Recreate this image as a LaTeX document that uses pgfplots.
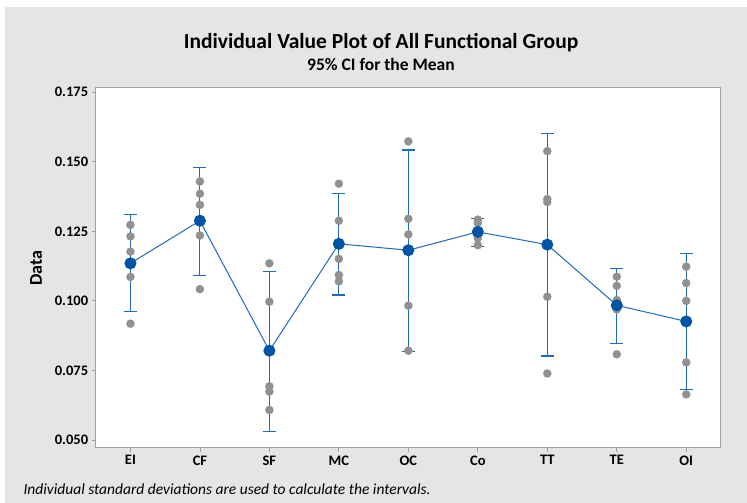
\documentclass[border=0pt]{standalone}
\usepackage{pgfplots}
\pgfplotsset{compat=1.18}
\usepackage{pgfplotstable}
\usepackage{fontspec}
\setmainfont{Carlito}
\definecolor{bg}{RGB}{229,229,229}
\definecolor{pts}{RGB}{145,145,145}
\definecolor{meanblue}{RGB}{0,84,166}
\definecolor{ciblue}{RGB}{31,106,186}
\definecolor{frame}{RGB}{160,160,160}

\pgfplotstableread{
x y
0 0.1273
0 0.1232
0 0.1177
0 0.1086
0 0.0918
1 0.1429
1 0.1385
1 0.1345
1 0.1235
1 0.1042
2 0.1135
2 0.0997
2 0.0693
2 0.0674
2 0.0608
3 0.1421
3 0.1288
3 0.1151
3 0.1093
3 0.1070
4 0.1573
4 0.1295
4 0.1239
4 0.0983
4 0.0821
5 0.1292
5 0.1280
5 0.1248
5 0.1225
5 0.1200
6 0.1538
6 0.1366
6 0.1355
6 0.1015
6 0.0739
7 0.1087
7 0.1054
7 0.1003
7 0.0985
7 0.0969
7 0.0808
8 0.1123
8 0.1064
8 0.1000
8 0.0779
8 0.0664
}\points

\pgfplotstableread{
x mean
0 0.1135
1 0.1288
2 0.0821
3 0.1205
4 0.1182
5 0.1248
6 0.1202
7 0.0984
8 0.0926
}\means

\begin{document}
\begin{tikzpicture}[x=1pt,y=1pt]
\path[fill=white] (0,0) rectangle (747,503);
\fill[bg] (5,0) rectangle (747,496);
\node[font=\fontsize{21.5}{24}\selectfont\bfseries] at (381,460) {Individual Value Plot of All Functional Group};
\node[font=\fontsize{17.5}{20}\selectfont\bfseries] at (381,439) {95\% CI for the Mean};
\node[font=\fontsize{15.5}{18}\selectfont\itshape, anchor=west] at (20,14) {Individual standard deviations are used to calculate the intervals.};
\begin{axis}[
  at={(95.7pt,55pt)}, anchor=south west,
  scale only axis, width=625.3pt, height=360pt,
  xmin=-0.5, xmax=8.5, ymin=0.04713, ymax=0.1765,
  axis background/.style={fill=white},
  xtick={0,1,2,3,4,5,6,7,8},
  xticklabels={EI,CF,SF,MC,OC,Co,TT,TE,OI},
  ytick={0.05,0.075,0.1,0.125,0.15,0.175},
  scaled y ticks=false,
  yticklabel style={/pgf/number format/.cd, fixed, fixed zerofill, precision=3},
  /pgf/number format/assume math mode=true,
  ticklabel style={font=\fontsize{14.5}{16}\selectfont\bfseries},
  tick align=outside, tick pos=left, major tick length=4pt,
  tick style={frame, line width=0.8pt},
  axis line style={frame, line width=1pt},
  ylabel={Data},
  every axis y label/.style={at={(axis description cs:-0.0955,0.5)}, rotate=90, anchor=center, font=\fontsize{18}{20}\selectfont\bfseries},
  clip=false,
  unbounded coords=jump,
]
% 95% CI vertical lines
\addplot[ciblue, line width=1.1pt, mark=none] coordinates {
 (0,0.0961) (0,0.1311) (0,nan)
 (1,0.1092) (1,0.1479) (1,nan)
 (2,0.0532) (2,0.1107) (2,nan)
 (3,0.1021) (3,0.1385) (3,nan)
 (4,0.0817) (4,0.1542) (4,nan)
 (5,0.1196) (5,0.1295) (5,nan)
 (6,0.0802) (6,0.1600) (6,nan)
 (7,0.0848) (7,0.1117) (7,nan)
 (8,0.0683) (8,0.1169)
};
% caps
\addplot[ciblue, line width=1.1pt, mark=none] coordinates {
 (-0.0935,0.0961) (0.0935,0.0961) (0,nan) (-0.0935,0.1311) (0.0935,0.1311) (0,nan)
 (0.9065,0.1092) (1.0935,0.1092) (1,nan) (0.9065,0.1479) (1.0935,0.1479) (1,nan)
 (1.9065,0.0532) (2.0935,0.0532) (2,nan) (1.9065,0.1107) (2.0935,0.1107) (2,nan)
 (2.9065,0.1021) (3.0935,0.1021) (3,nan) (2.9065,0.1385) (3.0935,0.1385) (3,nan)
 (3.9065,0.0817) (4.0935,0.0817) (4,nan) (3.9065,0.1542) (4.0935,0.1542) (4,nan)
 (4.9065,0.1196) (5.0935,0.1196) (5,nan) (4.9065,0.1295) (5.0935,0.1295) (5,nan)
 (5.9065,0.0802) (6.0935,0.0802) (6,nan) (5.9065,0.1600) (6.0935,0.1600) (6,nan)
 (6.9065,0.0848) (7.0935,0.0848) (7,nan) (6.9065,0.1117) (7.0935,0.1117) (7,nan)
 (7.9065,0.0683) (8.0935,0.0683) (8,nan) (7.9065,0.1169) (8.0935,0.1169)
};
\addplot[only marks, mark=*, mark size=4pt, mark options={fill=pts, draw=pts}] table[x=x,y=y] {\points};
\addplot[ciblue, line width=1pt, mark=*, mark size=5.5pt, mark options={fill=meanblue, draw=meanblue}] table[x=x, y=mean] {\means};
\end{axis}
\end{tikzpicture}
\end{document}
